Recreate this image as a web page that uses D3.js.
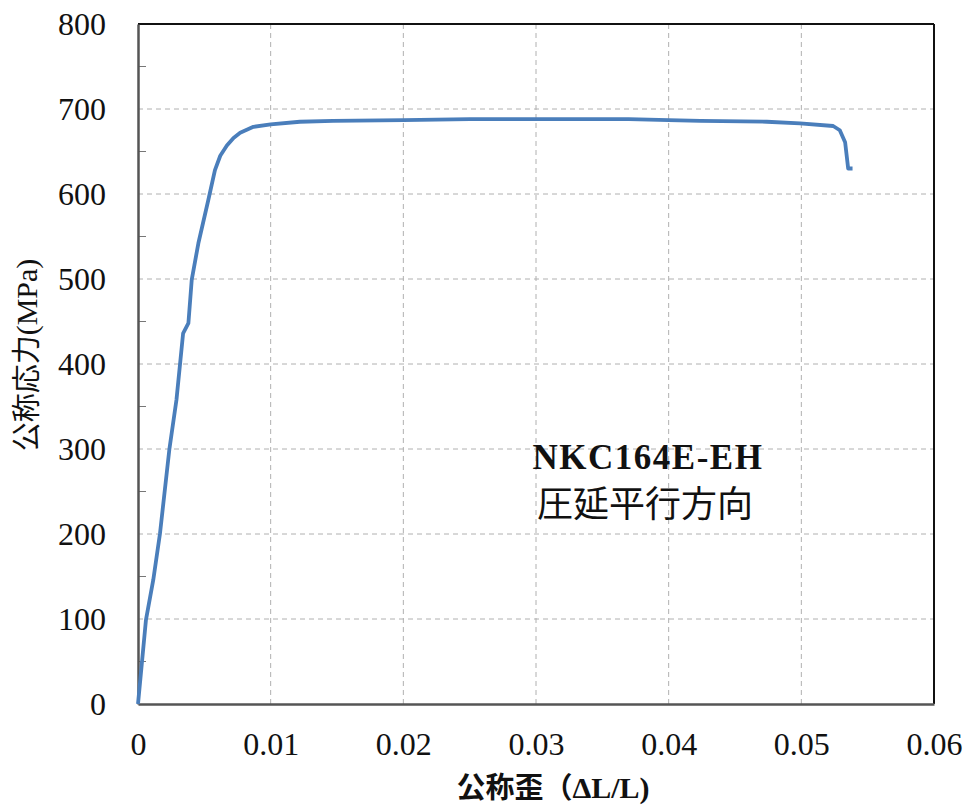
<!DOCTYPE html>
<html>
<head>
<meta charset="utf-8">
<script src="https://cdn.jsdelivr.net/npm/d3@7"></script>
<style>
  body { margin: 0; background: #fff; }
  svg { display: block; }
</style>
</head>
<body>
<div id="chart"></div>
<script>
// strain (ΔL/L) vs nominal stress (MPa)
const strain = [0, 0.0006, 0.00115, 0.00166, 0.00236, 0.0029, 0.0034, 0.0038, 0.00405, 0.00455,
  0.0053, 0.0058, 0.0062, 0.0067, 0.0072, 0.0077, 0.0087, 0.01, 0.0122, 0.0147, 0.02, 0.025, 0.03, 0.035, 0.037,
  0.04, 0.0424, 0.0474, 0.0499, 0.0524, 0.0529, 0.0533, 0.05353, 0.05386];
const stress = [0, 99, 146, 201, 299, 358, 436, 448, 499, 542,
  593, 628, 645, 657, 666, 672, 679, 682, 685, 686, 687, 688, 688, 688, 688,
  687, 686, 685, 683, 680, 675, 661, 630, 630];

const xTicks = [0, 0.01, 0.02, 0.03, 0.04, 0.05, 0.06];
const yTicks = [0, 100, 200, 300, 400, 500, 600, 700, 800];
const yMinor = [50, 150, 250, 350, 450, 550, 650, 750];

const W = 967, H = 805;
const m = { left: 138, top: 24, right: 934, bottom: 704 };
const serif = '"Liberation Serif", "Times New Roman", serif';
const cjk = '"Noto Sans CJK JP", sans-serif';

const svg = d3.select('#chart').append('svg').attr('width', W).attr('height', H);

const x = d3.scaleLinear().domain([0, 0.06]).range([m.left, m.right]);
const y = d3.scaleLinear().domain([0, 800]).range([m.bottom, m.top]);

// grid
svg.append('g').selectAll('line').data(xTicks.slice(1, -1)).join('line')
  .attr('x1', d => x(d)).attr('x2', d => x(d))
  .attr('y1', m.top).attr('y2', m.bottom)
  .attr('stroke', '#b0b0b0').attr('stroke-width', 1).attr('stroke-dasharray', '5,4');
svg.append('g').selectAll('line').data(yTicks.slice(1, -1)).join('line')
  .attr('x1', m.left).attr('x2', m.right)
  .attr('y1', d => y(d)).attr('y2', d => y(d))
  .attr('stroke', '#b0b0b0').attr('stroke-width', 1).attr('stroke-dasharray', '5,4');

// minor ticks on y
svg.append('g').selectAll('line').data(yMinor).join('line')
  .attr('x1', m.left).attr('x2', m.left + 8)
  .attr('y1', d => y(d)).attr('y2', d => y(d))
  .attr('stroke', '#777').attr('stroke-width', 1);

// frame
svg.append('line').attr('x1', m.left).attr('x2', m.right).attr('y1', m.top).attr('y2', m.top)
  .attr('stroke', '#111').attr('stroke-width', 2);
svg.append('line').attr('x1', m.right).attr('x2', m.right).attr('y1', m.top).attr('y2', m.bottom)
  .attr('stroke', '#111').attr('stroke-width', 2);

// axes
const xAxis = svg.append('g').attr('transform', `translate(0,${m.bottom})`)
  .call(d3.axisBottom(x).tickValues(xTicks).tickSize(0).tickPadding(28).tickFormat(d => d === 0 ? '0' : d3.format('.2f')(d)));
const yAxis = svg.append('g').attr('transform', `translate(${m.left},0)`)
  .call(d3.axisLeft(y).tickValues(yTicks).tickSize(0).tickPadding(32));
[xAxis, yAxis].forEach(a => {
  a.attr('font-family', null).attr('font-size', null);
  a.select('.domain').attr('stroke', '#555').attr('stroke-width', 2.5);
  a.selectAll('text').style('font-family', serif).style('font-size', '32px').attr('fill', '#111');
});
yAxis.selectAll('text').attr('dy', '0.33em');

// curve
const pts = strain.map((s, i) => [s, stress[i]]);
svg.append('path').datum(pts)
  .attr('fill', 'none').attr('stroke', '#4a7ebb').attr('stroke-width', 3.8)
  .attr('stroke-linejoin', 'round')
  .attr('d', d3.line().x(d => x(d[0])).y(d => y(d[1])));

// titles
const xt = svg.append('text').attr('x', 553).attr('y', 798).attr('text-anchor', 'middle')
  .attr('font-weight', 'bold').attr('fill', '#111');
xt.append('tspan').style('font-family', cjk).style('font-size', '29px').text('公称歪（');
xt.append('tspan').style('font-family', serif).style('font-size', '30px').text('ΔL/L)');

const yt = svg.append('text').attr('transform', 'translate(37,355) rotate(-90)').attr('text-anchor', 'middle')
  .attr('fill', '#111');
yt.append('tspan').style('font-family', cjk).style('font-size', '29px').text('公称応力');
yt.append('tspan').style('font-family', serif).style('font-size', '30px').text('(MPa)');

// annotation
svg.append('text').attr('x', 648).attr('y', 469).attr('text-anchor', 'middle')
  .style('font-family', serif).attr('font-weight', 'bold').style('font-size', '35px').attr('fill', '#111')
  .attr('letter-spacing', 1.5)
  .text('NKC164E-EH');
svg.append('text').attr('x', 645).attr('y', 517).attr('text-anchor', 'middle')
  .style('font-family', cjk).style('font-size', '36px').attr('fill', '#111')
  .text('圧延平行方向');
</script>
</body>
</html>
